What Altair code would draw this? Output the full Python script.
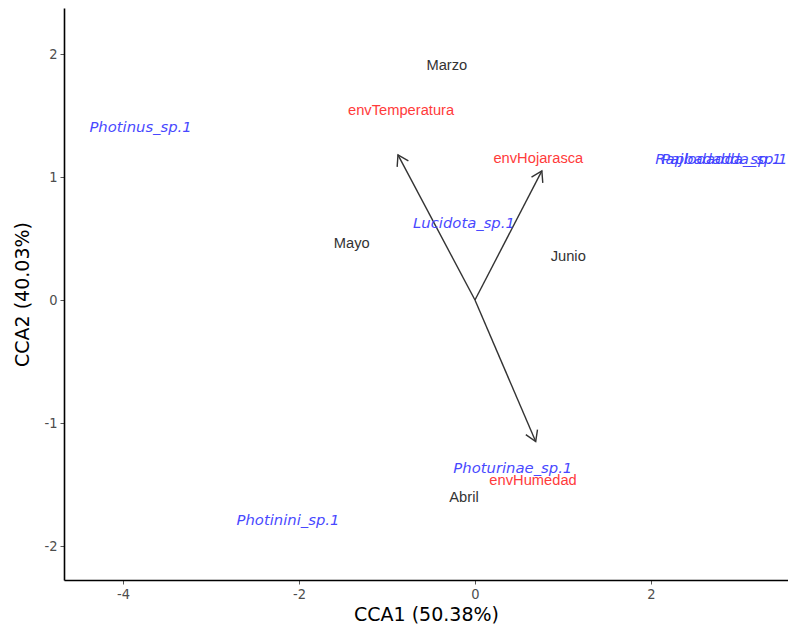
import math
import altair as alt
import pandas as pd

# Site (month) scores
site_names = ["Marzo", "Mayo", "Junio", "Abril"]
site_x = [-0.32, -1.40, 1.06, -0.125]
site_y = [1.90, 0.455, 0.35, -1.61]

# Species scores
sp_names = ["Photinus_sp.1", "Lucidota_sp.1", "Photurinae_sp.1", "Photinini_sp.1",
            "Rapbadadda_sp.1", "Pajlodadda_sp.1"]
sp_x = [-3.80, -0.125, 0.43, -2.125, 2.80, 2.80]
sp_y = [1.40, 0.62, -1.37, -1.80, 1.14, 1.14]

# Environmental vectors (arrow tips) and their label positions
env_names = ["envTemperatura", "envHojarasca", "envHumedad"]
env_x = [-0.875, 0.76, 0.69]
env_y = [1.18, 1.05, -1.15]
env_lab_x = [-0.84, 0.72, 0.66]
env_lab_y = [1.54, 1.15, -1.47]

X_DOM = [-4.67, 3.557]
Y_DOM = [-2.276, 2.374]
W, H = 724, 572

px_x = W / (X_DOM[1] - X_DOM[0])
px_y = H / (Y_DOM[1] - Y_DOM[0])

sites = pd.DataFrame({"x": site_x, "y": site_y, "label": site_names})
species = pd.DataFrame({"x": sp_x, "y": sp_y, "label": sp_names})
env = pd.DataFrame({
    "x0": [0.0] * 3, "y0": [0.0] * 3,
    "x": env_x, "y": env_y,
    "lx": env_lab_x, "ly": env_lab_y, "label": env_names,
})
env["angle"] = [
    (math.degrees(math.atan2(-yy * px_y, xx * px_x)) + 360) % 360
    for xx, yy in zip(env_x, env_y)
]

xs = alt.Scale(domain=X_DOM, nice=False, zero=False)
ys = alt.Scale(domain=Y_DOM, nice=False, zero=False)

lab = "'' + datum.value"
xaxis = alt.Axis(values=[-4, -2, 0, 2], labelExpr=lab)
yaxis = alt.Axis(values=[-2, -1, 0, 1, 2], labelExpr=lab)

xenc = alt.X("x:Q", scale=xs, title="CCA1 (50.38%)", axis=xaxis)
yenc = alt.Y("y:Q", scale=ys, title="CCA2 (40.03%)", axis=yaxis)

arrows = alt.Chart(env).mark_rule(color="#333333", strokeWidth=1.4).encode(
    x=alt.X("x0:Q", scale=xs, title="CCA1 (50.38%)", axis=xaxis),
    y=alt.Y("y0:Q", scale=ys, title="CCA2 (40.03%)", axis=yaxis),
    x2="x:Q", y2="y:Q",
)

heads = alt.Chart(env).mark_point(
    shape="M-1,-0.62L0,0L-1,0.62", filled=False, color="#333333",
    strokeWidth=1.4, size=420, opacity=1,
).encode(x=xenc, y=yenc, angle=alt.Angle("angle:Q", scale=None))

env_text = alt.Chart(env).mark_text(
    color="#ff3b3b", fontSize=14.7, font="Liberation Sans", align="center", baseline="middle"
).encode(x=alt.X("lx:Q", scale=xs), y=alt.Y("ly:Q", scale=ys), text="label:N")

site_text = alt.Chart(sites).mark_text(
    color="#333333", fontSize=14.7, font="Liberation Sans", align="center", baseline="middle"
).encode(x=xenc, y=yenc, text="label:N")

sp_text = alt.Chart(species).mark_text(
    color="#3f3fff", fontSize=14.8, font="DejaVu Sans", fontStyle="italic",
    align="center", baseline="middle", opacity=0.95,
).encode(x=xenc, y=yenc, text="label:N")

chart = alt.layer(arrows, heads, env_text, site_text, sp_text).properties(
    width=W, height=H,
    autosize=alt.AutoSizeParams(type="none"),
    padding={"left": 56, "top": 0, "right": 0, "bottom": 44},
).configure_view(stroke=None).configure_axis(
    grid=False,
    domainColor="#000000", domainWidth=1.6,
    tickColor="#555555", tickSize=4, tickWidth=1,
    labelColor="#4d4d4d", labelFont="DejaVu Sans Condensed", labelFontSize=14.5,
    labelPadding=3,
    titleColor="#000000", titleFont="DejaVu Sans", titleFontSize=19,
    titleFontWeight="normal",
).configure_axisX(titlePadding=5).configure_axisY(titlePadding=11)

chart.save("out.html", embed_options={"renderer": "svg", "actions": False})
